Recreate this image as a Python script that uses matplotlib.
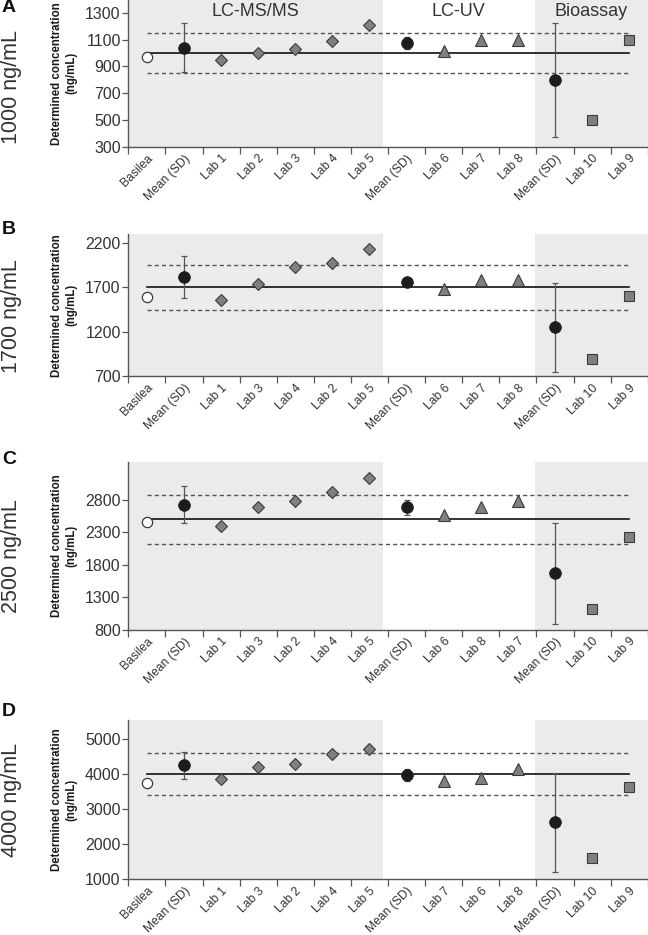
"""Four-panel inter-lab comparison: determined concentration per lab vs nominal."""
import matplotlib
matplotlib.use("Agg")
import matplotlib.pyplot as plt

plt.rcParams["font.family"] = ["Liberation Sans", "DejaVu Sans"]

W, H = 648, 935
SHADE = "#ebebeb"; INK = "#333333"; EDGE = "#3a3a3a"; GREY = "#808080"; DARK = "#1c1c1c"

# marker kind of each slot (same order in every panel)
KINDS = ["ref", "mean", "D", "D", "D", "D", "D", "mean", "^", "^", "^", "mean", "s", "s"]
GROUPS = ["LC-MS/MS", "LC-UV", "Bioassay"]

PANELS = ["A", "B", "C", "D"]
CONC = ["1000 ng/mL", "1700 ng/mL", "2500 ng/mL", "4000 ng/mL"]
NOMINAL = [1000, 1700, 2500, 4000]
LOWER = [850, 1445, 2125, 3400]
UPPER = [1150, 1955, 2875, 4600]
YLIM = [(300, 1400), (700, 2300), (800, 3375), (1000, 5550)]
YTICKS = [[300, 500, 700, 900, 1100, 1300],
          [700, 1200, 1700, 2200],
          [800, 1300, 1800, 2300, 2800],
          [1000, 2000, 3000, 4000, 5000]]

LABELS_A = ["Basilea", "Mean (SD)", "Lab 1", "Lab 2", "Lab 3", "Lab 4", "Lab 5",
            "Mean (SD)", "Lab 6", "Lab 7", "Lab 8", "Mean (SD)", "Lab 10", "Lab 9"]
VALUES_A = [972, 1040, 948, 998, 1030, 1089, 1210, 1074, 1016, 1099, 1099, 800, 500, 1100]
SD_A = [183, 45, 425]

LABELS_B = ["Basilea", "Mean (SD)", "Lab 1", "Lab 3", "Lab 4", "Lab 2", "Lab 5",
            "Mean (SD)", "Lab 6", "Lab 7", "Lab 8", "Mean (SD)", "Lab 10", "Lab 9"]
VALUES_B = [1592, 1818, 1558, 1738, 1926, 1978, 2136, 1764, 1684, 1786, 1786, 1250, 900, 1598]
SD_B = [232, 35, 500]

LABELS_C = ["Basilea", "Mean (SD)", "Lab 1", "Lab 3", "Lab 2", "Lab 4", "Lab 5",
            "Mean (SD)", "Lab 6", "Lab 8", "Lab 7", "Mean (SD)", "Lab 10", "Lab 9"]
VALUES_C = [2462, 2722, 2390, 2680, 2782, 2920, 3130, 2680, 2560, 2680, 2778, 1672, 1120, 2221]
SD_C = [285, 110, 775]

LABELS_D = ["Basilea", "Mean (SD)", "Lab 1", "Lab 3", "Lab 2", "Lab 4", "Lab 5",
            "Mean (SD)", "Lab 7", "Lab 6", "Lab 8", "Mean (SD)", "Lab 10", "Lab 9"]
VALUES_D = [3743, 4257, 3874, 4217, 4303, 4589, 4714, 3975, 3817, 3903, 4160, 2628, 1620, 3637]
SD_D = [385, 170, 1420]

LABELS = [LABELS_A, LABELS_B, LABELS_C, LABELS_D]
VALUES = [VALUES_A, VALUES_B, VALUES_C, VALUES_D]
SDS = [SD_A, SD_B, SD_C, SD_D]

# layout in reference pixels: axes top/bottom, letter y, side label y
AX_PX = [(-0.7, 147), (234.1, 376.3), (462, 630), (720, 879.3)]
LETTER_Y = [8, 229, 459, 711]
SIDE_Y = [87, 316, 556, 800]
AX_LEFT, AX_RIGHT = 128.3, 647.7
SHADED = [(-0.5, 6.36), (10.46, 13.5)]
GROUP_X = [2.93, 8.41, 11.98]

MARK = {
    "ref": dict(marker="o", ms=7.4, mfc="white", mec=EDGE, mew=0.9),
    "mean": dict(marker="o", ms=8.4, mfc=DARK, mec=DARK, mew=0.6),
    "D": dict(marker="D", ms=6.6, mfc=GREY, mec=EDGE, mew=0.8),
    "^": dict(marker="^", ms=8.0, mfc=GREY, mec=EDGE, mew=0.8),
    "s": dict(marker="s", ms=6.8, mfc=GREY, mec=EDGE, mew=0.8),
}


def panel(ax, i):
    labels, values = LABELS[i], VALUES[i]
    x = list(range(len(labels)))
    for a, b in SHADED:
        ax.axvspan(a, b, color=SHADE, lw=0, zorder=0)
    ends = [x[0], x[-1]]
    ax.plot(ends, [NOMINAL[i]] * 2, color="#111111", lw=1.2, zorder=2)
    for lim in (LOWER[i], UPPER[i]):
        ax.plot(ends, [lim] * 2, color="#555555", lw=1.0, ls=(0, (3, 2.2)), zorder=2)

    mx = [k for k, kind in enumerate(KINDS) if kind == "mean"]
    ax.errorbar(mx, [values[k] for k in mx], yerr=SDS[i], fmt="none", ecolor="#555555",
                elinewidth=0.9, capsize=2.4, capthick=0.9, zorder=3)
    for xi, v, kind in zip(x, values, KINDS):
        ax.plot([xi], [v], ls="none", zorder=4, **MARK[kind])

    ax.set_xlim(-0.5, len(labels) - 0.5)
    ax.set_ylim(*YLIM[i])
    ax.set_yticks(YTICKS[i])
    ax.set_xticks([k - 0.5 for k in range(len(labels) + 1)])
    ax.set_xticklabels([])
    ax.set_xticks(x, labels, minor=True)
    for t in ax.get_xticklabels(minor=True):
        t.set_rotation(45); t.set_ha("right"); t.set_va("top"); t.set_rotation_mode("anchor")
    ax.tick_params(axis="x", which="major", length=5, width=0.9, color="#555555", direction="out")
    ax.tick_params(axis="x", which="minor", length=0, pad=4, labelsize=8.7, labelcolor=INK)
    ax.tick_params(axis="y", length=4, width=0.9, color="#555555", pad=1.5,
                   labelsize=11.5, labelcolor=INK)
    for s in ("top", "right"):
        ax.spines[s].set_visible(False)
    for s in ("left", "bottom"):
        ax.spines[s].set_color("#555555"); ax.spines[s].set_linewidth(1.0)


def main():
    fig = plt.figure(figsize=(W / 100, H / 100), dpi=100)
    for i in range(4):
        top, bot = AX_PX[i]
        ax = fig.add_axes([AX_LEFT / W, 1 - bot / H, (AX_RIGHT - AX_LEFT) / W, (bot - top) / H])
        panel(ax, i)
        if i == 0:
            yt = 1 - (12 - top) / (bot - top)
            for name, gx in zip(GROUPS, GROUP_X):
                ax.text(gx, yt, name, transform=ax.get_xaxis_transform(), ha="center",
                        va="center", fontsize=13, color=INK)
        fig.text(64 / W, 1 - (top + bot) / 2 / H, "Determined concentration\n(ng/mL)",
                 rotation=90, ha="center", va="center", fontweight="bold", fontsize=8.3,
                 linespacing=1.2, color="#1a1a1a")
        fig.text(12 / W, 1 - SIDE_Y[i] / H, CONC[i], rotation=90, ha="center", va="center",
                 fontsize=15.5, color=INK)
        fig.text(9 / W, 1 - LETTER_Y[i] / H, PANELS[i], ha="center", va="center",
                 fontsize=14, fontweight="bold", color="#111111")
    fig.savefig("out.png", dpi=100)
    plt.close(fig)


if __name__ == "__main__":
    main()
